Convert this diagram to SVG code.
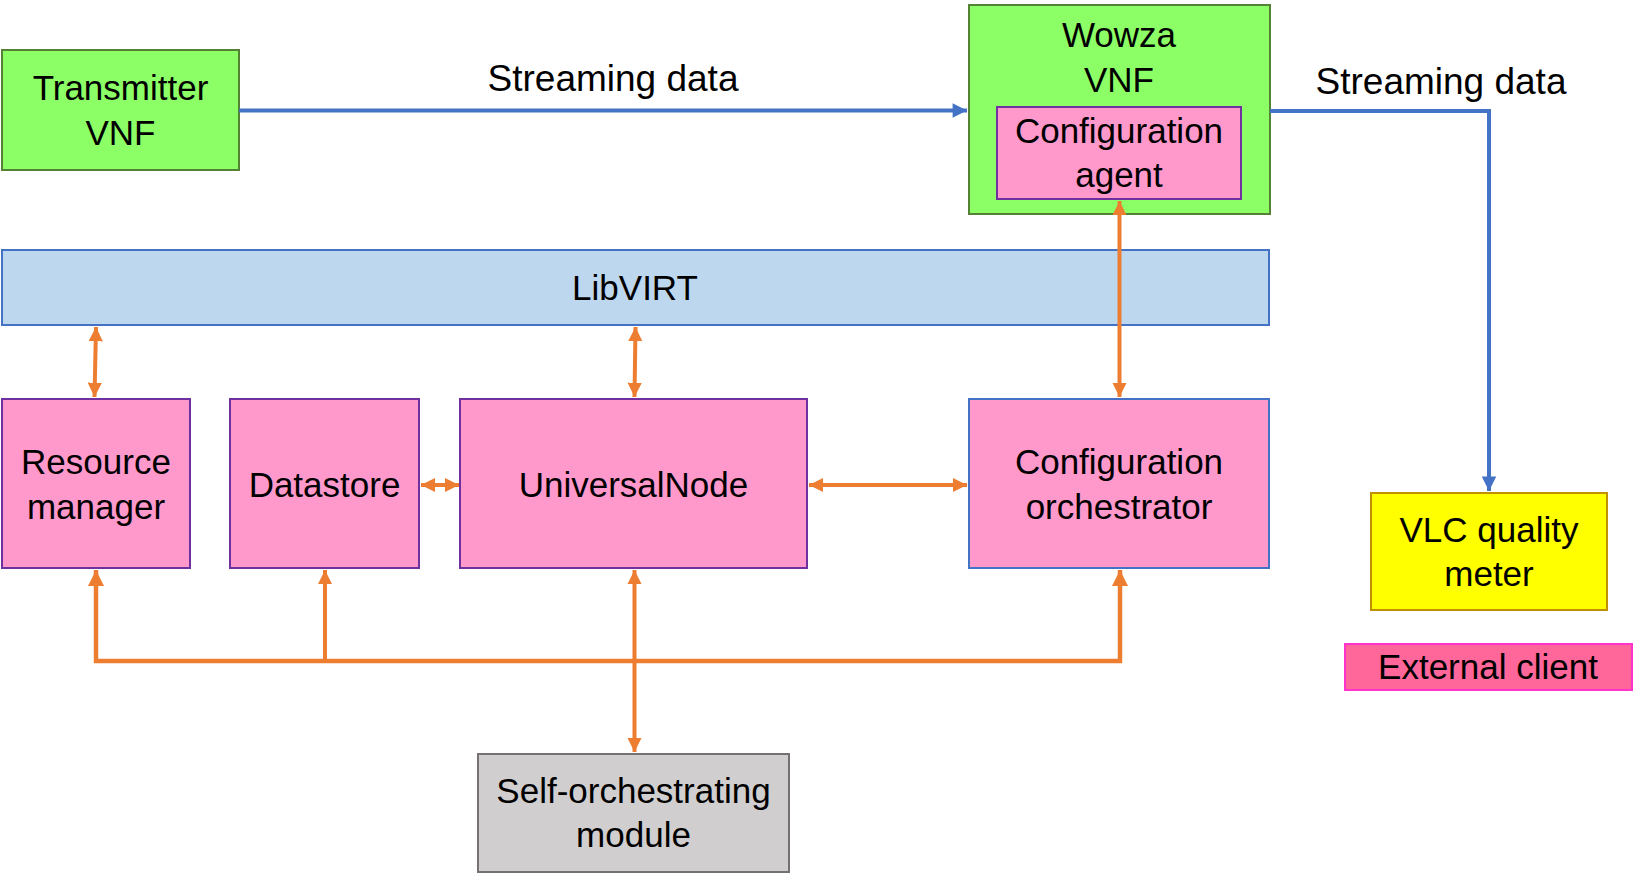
<svg xmlns="http://www.w3.org/2000/svg" width="1633" height="881" viewBox="0 0 1633 881">
<style>
text{font-family:"Liberation Sans",Arial,sans-serif;font-size:35px;fill:#000;text-anchor:middle}
.lbl{font-size:37px}
.green{fill:#8cff66;stroke:#548235;stroke-width:2}
.pink{fill:#ff99cc;stroke:#7030a0;stroke-width:2}
.pinkb{fill:#ff99cc;stroke:#4472c4;stroke-width:2}
.blue{fill:#bdd7ee;stroke:#4472c4;stroke-width:2}
.yellow{fill:#ffff00;stroke:#bf9000;stroke-width:2}
.ext{fill:#ff6699;stroke:#ff33cc;stroke-width:2}
.gray{fill:#d0cece;stroke:#767171;stroke-width:2}
.o{stroke:#ed7d31;stroke-width:4;fill:none}
.b{stroke:#4472c4;stroke-width:4;fill:none}
</style>
<defs>
<marker id="ao" viewBox="0 0 10 10" refX="10" refY="5" markerWidth="3.6" markerHeight="3.6" markerUnits="strokeWidth" orient="auto-start-reverse"><path d="M0,0L10,5L0,10z" fill="#ed7d31"/></marker>
<marker id="ab" viewBox="0 0 10 10" refX="10" refY="5" markerWidth="4" markerHeight="3.6" markerUnits="strokeWidth" orient="auto"><path d="M0,0L10,5L0,10z" fill="#4472c4"/></marker>
</defs>
<rect width="1633" height="881" fill="#fff"/>
<g id="transmitter"><rect class="green" x="2" y="50" width="237" height="120"/><text x="120.5" y="100">Transmitter</text><text x="120.5" y="145">VNF</text></g>
<g id="wowza"><rect class="green" x="969" y="5" width="301" height="209"/><text x="1119" y="47">Wowza</text><text x="1119" y="92">VNF</text></g>
<g id="config-agent"><rect class="pink" x="997" y="107" width="244" height="92"/><text x="1119" y="143">Configuration</text><text x="1119" y="187">agent</text></g>
<g id="libvirt"><rect class="blue" x="2" y="250" width="1267" height="75"/><text x="635" y="300">LibVIRT</text></g>
<g id="resource-manager"><rect class="pink" x="2" y="399" width="188" height="169"/><text x="96" y="474">Resource</text><text x="96" y="519">manager</text></g>
<g id="datastore"><rect class="pink" x="230" y="399" width="189" height="169"/><text x="324.5" y="497">Datastore</text></g>
<g id="universalnode"><rect class="pink" x="460" y="399" width="347" height="169"/><text x="633.5" y="497">UniversalNode</text></g>
<g id="config-orchestrator"><rect class="pinkb" x="969" y="399" width="300" height="169"/><text x="1119" y="474">Configuration</text><text x="1119" y="519">orchestrator</text></g>
<g id="vlc"><rect class="yellow" x="1371" y="493" width="236" height="117"/><text x="1489" y="542">VLC quality</text><text x="1489" y="586">meter</text></g>
<g id="external-client"><rect class="ext" x="1345" y="644" width="287" height="46"/><text x="1488" y="679">External client</text></g>
<g id="self-orchestrating"><rect class="gray" x="478" y="754" width="311" height="118"/><text x="633.5" y="803">Self-orchestrating</text><text x="633.5" y="847">module</text></g>
<g id="connectors">
<path class="b" d="M239,110.5H967" marker-end="url(#ab)"/>
<path class="b" d="M1270,111H1489V491" marker-end="url(#ab)"/>
<text class="lbl" x="613" y="91">Streaming data</text>
<text class="lbl" x="1441" y="94">Streaming data</text>
<path class="o" d="M96,327L94.5,397" marker-start="url(#ao)" marker-end="url(#ao)"/>
<path class="o" d="M635.5,327L634.5,397" marker-start="url(#ao)" marker-end="url(#ao)"/>
<path class="o" d="M1119.5,201V397" marker-start="url(#ao)" marker-end="url(#ao)"/>
<path class="o" d="M421,485H459" marker-start="url(#ao)" marker-end="url(#ao)"/>
<path class="o" d="M809,485H967" marker-start="url(#ao)" marker-end="url(#ao)"/>
<path class="o" d="M96,570V661H1120V570" marker-start="url(#ao)" marker-end="url(#ao)" style="stroke-width:4.5"/>
<path class="o" d="M325,570V661" marker-start="url(#ao)"/>
<path class="o" d="M634.5,570V752" marker-start="url(#ao)" marker-end="url(#ao)"/>
</g>
</svg>
